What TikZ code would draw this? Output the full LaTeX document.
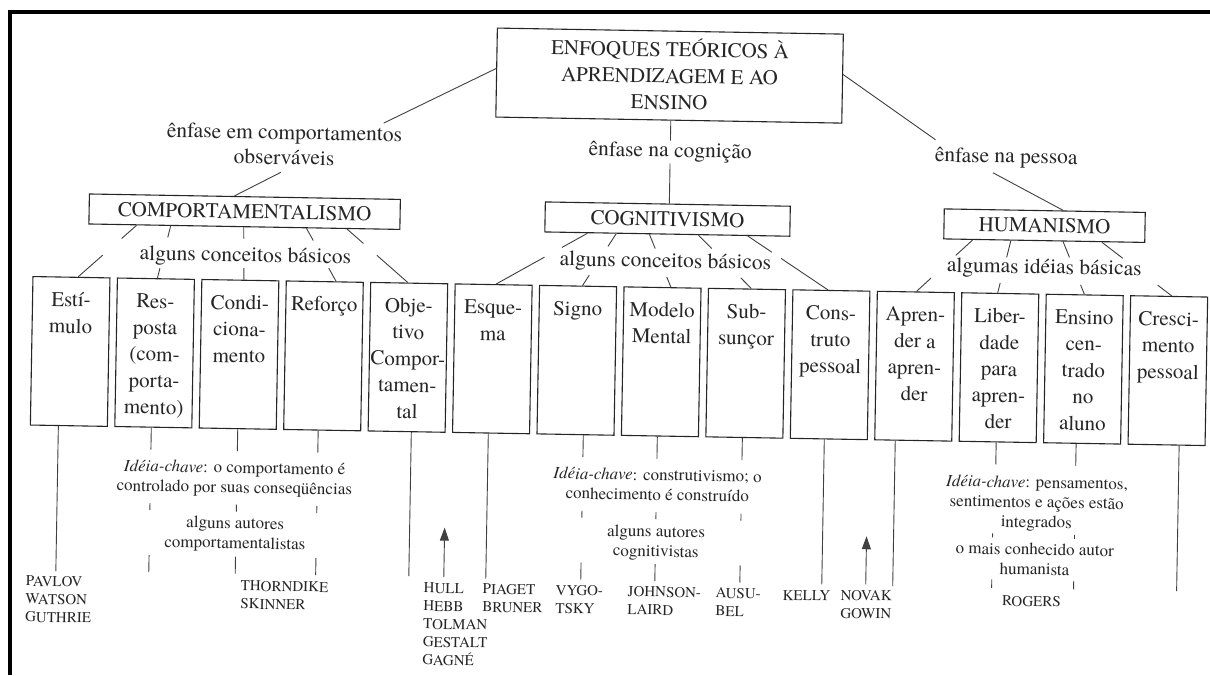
\documentclass[tikz,border=0pt]{standalone}
\usepackage{fontspec}
\setmainfont{texgyretermes}[Extension=.otf, UprightFont=*-regular, ItalicFont=*-italic, BoldFont=*-bold, BoldItalicFont=*-bolditalic]
\usetikzlibrary{calc,arrows.meta}

\newcommand\mainsz{\fontsize{21}{26.5}\selectfont}
\newcommand\labsz{\fontsize{21.5}{25}\selectfont}
\newcommand\notesz{\fontsize{17}{19.8}\selectfont}
\newcommand\namesz{\fontsize{15}{18}\selectfont}
\newcommand\ctrlines[2]{\parbox[t]{#1}{\centering #2}}
\newcommand\leftlines[2]{\parbox[t]{#1}{\raggedright #2}}

% connector from a parent box to a child box, interrupted around a label
\newcommand\brokenlink[6]{%
  \coordinate (blA) at ([xshift=#2]#1.south);
  \coordinate (blB) at ([xshift=#4]#3.north);
  \draw[ink] (blA) -- ($(blA)!#5!(blB)$);
  \draw[ink] ($(blA)!#6!(blB)$) -- (blB);}

\begin{document}
\begin{tikzpicture}[x=1pt,y=1pt,
  ink/.style={draw=black!75, line width=0.9pt},
  tbox/.style={draw=black!85, line width=1.1pt, inner sep=0pt},
  cbox/.style={draw=black!85, line width=1.1pt, minimum width=77pt, minimum height=148.5pt, inner sep=0pt, anchor=north},
  btext/.style={anchor=base, inner sep=0pt, text=black!85, font=\mainsz},
  hbox/.style={draw=black!85, line width=1.1pt, minimum height=30pt, inner sep=0pt, text=black!85, font=\mainsz},
  lab/.style={anchor=base, inner sep=1.5pt, text=black!85, font=\labsz},
  note/.style={anchor=base, inner sep=1pt, text=black!85, font=\notesz},
  names/.style={anchor=base west, inner sep=0pt, text=black!85, font=\namesz},
  arr/.style={ink, -{Triangle[length=13pt,width=9pt]}},
]
\useasboundingbox (0,0) rectangle (1210,-675);
\fill[white] (0,0) rectangle (1210,-675);
% page frame
\draw[line width=4pt, line join=miter, black] (10.3,-675) -- (10.3,-11.7) -- (1210,-11.7);

\begin{scope}[rotate around={-1:(605,-337)}, transform shape]
% ---- title
\node[tbox, minimum width=346pt, minimum height=89pt] (title) at (665,-74.5) {};
\node[btext] (titletxt) at (665,-55.5) {\ctrlines{340pt}{ENFOQUES TEÓRICOS À\\APRENDIZAGEM E AO\\ENSINO}};

% ---- emphasis labels
\node[lab] (emA) at (281,-145) {\ctrlines{300pt}{ênfase em comportamentos\\observáveis}};
\node[lab] (emB) at (667,-156) {ênfase na cognição};
\node[lab] (emC) at (1003,-156) {ênfase na pessoa};
\coordinate (emAend) at (380,-127);
\coordinate (emAstart) at (278,-178);
\coordinate (emCend) at (932,-134);
\coordinate (emCstart) at (990,-166);

% ---- approaches
\node[hbox, minimum width=311pt] (comp) at (242.5,-218) {COMPORTAMENTALISMO};
\node[hbox, minimum width=245pt] (cogn) at (665.5,-218) {COGNITIVISMO};
\node[hbox, minimum width=201pt] (hum) at (1042.5,-218) {HUMANISMO};

\draw[ink] ([yshift=-41pt]title.north west) -- (emAend);
\draw[ink] (emAstart) -- ([xshift=-10.5pt]comp.north);
\draw[ink] (title.south -| emB) -- (emB.north);
\draw[ink] (emB.south) -- (emB.south |- cogn.north);
\draw[ink] ([yshift=-41pt]title.north east) -- (emCend);
\draw[ink] (emCstart) -- ([xshift=18.5pt]hum.north);

% ---- concept labels
\node[lab] (kA) at (244,-268) {alguns conceitos básicos};
\node[lab] (kB) at (664,-266.5) {alguns conceitos básicos};
\node[lab] (kC) at (1043,-266) {algumas idéias básicas};

% ---- concept boxes
\node[cbox] (b1) at (70.5,-286) {};
\node[cbox] (b2) at (154.95,-286) {};
\node[cbox] (b3) at (239.4,-286) {};
\node[cbox] (b4) at (323.85,-286) {};
\node[cbox] (b5) at (408.3,-286) {};
\node[cbox] (b6) at (492.75,-286) {};
\node[cbox] (b7) at (577.2,-286) {};
\node[cbox] (b8) at (661.65,-286) {};
\node[cbox] (b9) at (746.1,-286) {};
\node[cbox] (b10) at (830.55,-286) {};
\node[cbox] (b11) at (915,-286) {};
\node[cbox] (b12) at (999.45,-286) {};
\node[cbox] (b13) at (1083.9,-286) {};
\node[cbox] (b14) at (1168.35,-286) {};

\node[btext] (t1) at (70.5,-316) {\ctrlines{92pt}{Estí-\\mulo}};
\node[btext] (t2) at (154.95,-316) {\ctrlines{92pt}{Res-\\posta\\(com-\\porta-\\mento)}};
\node[btext] (t3) at (239.4,-316) {\ctrlines{92pt}{Condi-\\ciona-\\mento}};
\node[btext] (t4) at (323.85,-316) {\ctrlines{92pt}{Reforço}};
\node[btext] (t5) at (408.3,-316) {\ctrlines{92pt}{Obje-\\tivo\\Compor-\\tamen-\\tal}};
\node[btext] (t6) at (492.75,-316) {\ctrlines{92pt}{Esque-\\ma}};
\node[btext] (t7) at (577.2,-316) {\ctrlines{92pt}{Signo}};
\node[btext] (t8) at (661.65,-316) {\ctrlines{92pt}{Modelo\\Mental}};
\node[btext] (t9) at (746.1,-316) {\ctrlines{92pt}{Sub-\\sunçor}};
\node[btext] (t10) at (830.55,-316) {\ctrlines{92pt}{Cons-\\truto\\pessoal}};
\node[btext] (t11) at (915,-316) {\ctrlines{92pt}{Apren-\\der a\\apren-\\der}};
\node[btext] (t12) at (999.45,-316) {\ctrlines{92pt}{Liber-\\dade\\para\\apren-\\der}};
\node[btext] (t13) at (1083.9,-316) {\ctrlines{92pt}{Ensino\\cen-\\trado\\no\\aluno}};
\node[btext] (t14) at (1168.35,-316) {\ctrlines{92pt}{Cresci-\\mento\\pessoal}};

% ---- approach -> concept connectors
\brokenlink{comp}{-107.8pt}{b1}{6.7pt}{0.255}{0.58}
\brokenlink{comp}{-73.7pt}{b2}{1.5pt}{0.22}{0.81}
\brokenlink{comp}{-0.6pt}{b3}{3.6pt}{0.215}{0.78}
\brokenlink{comp}{62.1pt}{b4}{11.3pt}{0.23}{0.75}
\brokenlink{comp}{102.7pt}{b5}{-1.4pt}{0.27}{0.49}
\brokenlink{cogn}{-79.8pt}{b6}{2.35pt}{0.28}{0.47}
\brokenlink{cogn}{-51.1pt}{b7}{4.4pt}{0.245}{0.80}
\brokenlink{cogn}{-17.9pt}{b8}{8.35pt}{0.27}{0.81}
\brokenlink{cogn}{31.1pt}{b9}{4.4pt}{0.25}{0.80}
\brokenlink{cogn}{80.5pt}{b10}{-3.5pt}{0.30}{0.415}
\brokenlink{hum}{-71.6pt}{b11}{0.6pt}{0.30}{0.74}
\brokenlink{hum}{-33.4pt}{b12}{-2.6pt}{0.32}{0.81}
\brokenlink{hum}{18.8pt}{b13}{-0.3pt}{0.30}{0.82}
\brokenlink{hum}{57.6pt}{b14}{2.55pt}{0.30}{0.80}

% ---- key ideas and authors
\node[note] (ideaA) at (237,-479.5) {\ctrlines{280pt}{\textit{Idéia-chave}: o comportamento é\\controlado por suas conseqüências}};
\node[note] (autA) at (238.5,-535) {\ctrlines{200pt}{alguns autores\\comportamentalistas}};
\node[note] (ideaB) at (660,-479.5) {\ctrlines{260pt}{\textit{Idéia-chave}: construtivismo; o\\conhecimento é construído}};
\node[note] (autB) at (659.5,-536) {\ctrlines{200pt}{alguns autores\\cognitivistas}};
\node[note] (ideaC) at (1039.5,-480.4) {\ctrlines{240pt}{\textit{Idéia-chave}: pensamentos,\\sentimentos e ações estão\\integrados}};
\node[note] (autC) at (1038.5,-547.4) {\ctrlines{240pt}{o mais conhecido autor\\humanista}};

\node[names] (nA) at (30,-596) {\leftlines{90pt}{PAVLOV\\WATSON\\GUTHRIE}};
\node[names] (nB) at (245,-597) {\leftlines{90pt}{THORNDIKE\\SKINNER}};
\node[names] (nC) at (428,-596) {\leftlines{90pt}{HULL\\HEBB\\TOLMAN\\GESTALT\\GAGNÉ}};
\node[names] (nD) at (487,-596) {\leftlines{90pt}{PIAGET\\BRUNER}};
\node[names] (nE) at (560,-596) {\leftlines{70pt}{VYGO-\\TSKY}};
\node[names] (nF) at (632,-596) {\leftlines{90pt}{JOHNSON-\\LAIRD}};
\node[names] (nG) at (720,-596) {\leftlines{60pt}{AUSU-\\BEL}};
\node[names] (nH) at (787,-597) {KELLY};
\node[names] (nI) at (845,-596) {\leftlines{60pt}{NOVAK\\GOWIN}};
\node[note, font=\namesz] (nJ) at (1036,-599) {ROGERS};

% ---- lines below the concept boxes
\draw[ink] ([xshift=-10.5pt]b1.south) -- ++(0,-145);
\draw[ink] ([xshift=-2pt]b2.south) -- ++(0,-22);
\draw[ink] ([xshift=0pt]b3.south) -- ++(0,-22);
\draw[ink] ([xshift=-4pt]b4.south) -- ++(0,-22);
\draw[ink] ([xshift=4.7pt]b5.south) -- ++(0,-144);
\draw[ink] ([xshift=-2.75pt]b6.south) -- ++(0,-145);
\draw[ink] ([xshift=7.8pt]b7.south) -- ++(0,-22);
\draw[ink] ([xshift=-2.6pt]b8.south) -- ++(0,-22);
\draw[ink] ([xshift=-2pt]b9.south) -- ++(0,-22);
\draw[ink] ([xshift=-4.5pt]b10.south) -- ++(0,-145);
\draw[ink] ([xshift=-18pt]b11.south) -- ++(0,-145.5);
\draw[ink] ([xshift=-1.5pt]b12.south) -- ++(0,-22);
\draw[ink] ([xshift=-6pt]b13.south) -- ++(0,-22);
\draw[ink] ([xshift=12.6pt]b14.south) -- ++(0,-145.5);

% short strokes between the idea texts and the author texts
\foreach \b/\d in {b2/-2, b3/0, b4/-4, b7/7.8, b8/-2.6, b9/-2} {
  \draw[ink] ([xshift=\d pt]\b.south) ++(0,-75.5) -- ++(0,-7);
  \draw[ink] ([xshift=\d pt]\b.south) ++(0,-127.5) -- ++(0,-17);
}
\foreach \b/\d in {b12/-3.5, b13/-6} {
  \draw[ink] ([xshift=\d pt]\b.south) ++(0,-91) -- ++(0,-4);
  \draw[ink] ([xshift=\d pt]\b.south) ++(0,-137) -- ++(0,-8.5);
}

% ---- upward arrows
\draw[arr] ([xshift=20pt,yshift=6pt]nC.north west) -- ++(0,49.5);
\draw[arr] ([xshift=25pt,yshift=6pt]nI.north west) -- ++(0,48);
\end{scope}
\end{tikzpicture}
\end{document}
